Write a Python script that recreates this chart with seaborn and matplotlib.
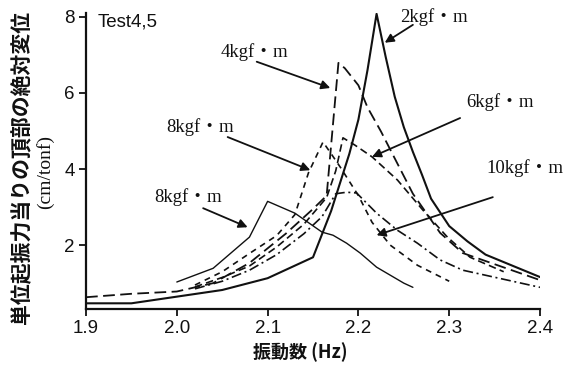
import matplotlib
matplotlib.use("Agg")
import matplotlib.pyplot as plt
import seaborn as sns

# Frequency response of the top displacement per unit exciting force
freq_2 = [1.90, 1.95, 2.05, 2.10, 2.15, 2.17, 2.19, 2.20, 2.21, 2.22,
          2.23, 2.24, 2.25, 2.26, 2.27, 2.28, 2.30, 2.32, 2.34, 2.40]
amp_2 = [0.47, 0.47, 0.82, 1.13, 1.68, 2.90, 4.40, 5.30, 6.60, 8.08,
         6.95, 5.90, 5.10, 4.45, 3.85, 3.22, 2.50, 2.10, 1.75, 1.16]

freq_4 = [1.90, 1.95, 2.00, 2.04, 2.08, 2.12, 2.15, 2.165, 2.178, 2.185,
          2.20, 2.21, 2.225, 2.24, 2.26, 2.29, 2.315, 2.40]
amp_4 = [0.63, 0.72, 0.78, 1.00, 1.53, 2.30, 2.95, 3.30, 6.79, 6.65,
         6.20, 5.62, 4.98, 4.28, 3.35, 2.32, 1.79, 1.08]

freq_6 = [2.02, 2.05, 2.08, 2.11, 2.14, 2.165, 2.175, 2.183, 2.196, 2.215,
          2.243, 2.271, 2.298, 2.323, 2.36]
amp_6 = [0.90, 1.15, 1.45, 1.95, 2.55, 3.25, 3.95, 4.82, 4.63, 4.32,
         3.71, 2.92, 2.21, 1.68, 1.30]

freq_8a = [2.02, 2.05, 2.08, 2.11, 2.13, 2.145, 2.161, 2.17, 2.18, 2.20,
           2.215, 2.235, 2.265, 2.30]
amp_8a = [0.95, 1.30, 1.78, 2.25, 2.80, 3.90, 4.71, 4.40, 4.05, 3.30,
          2.60, 2.00, 1.47, 1.05]

freq_8b = [2.00, 2.04, 2.08, 2.10, 2.13, 2.16, 2.172, 2.187, 2.202, 2.22,
           2.25, 2.26]
amp_8b = [1.03, 1.39, 2.21, 3.15, 2.84, 2.34, 2.26, 2.05, 1.79, 1.42,
          1.00, 0.89]

freq_10 = [2.02, 2.05, 2.08, 2.11, 2.14, 2.16, 2.175, 2.187, 2.198, 2.22,
           2.243, 2.265, 2.29, 2.315, 2.40]
amp_10 = [0.85, 1.05, 1.34, 1.75, 2.30, 2.75, 3.35, 3.39, 3.37, 2.84,
          2.39, 2.05, 1.61, 1.34, 0.89]

x_ticks = [1.9, 2.0, 2.1, 2.2, 2.3, 2.4]
x_tick_labels = ["1.9", "2.0", "2.1", "2.2", "2.3", "2.4"]
y_ticks = [2, 4, 6, 8]
y_tick_labels = ["2", "4", "6", "8"]

sns.set_theme(style="ticks")
plt.rcParams["font.family"] = ["Liberation Sans", "Noto Sans CJK JP"]

fig = plt.figure(figsize=(5.7, 3.66), dpi=100)
ax = fig.add_axes([0.1509, 0.1557, 0.7965, 0.8087])

series = [
    (freq_2, amp_2, 1.5, "-"),
    (freq_4, amp_4, 1.3, (0, (6.5, 3.0))),
    (freq_6, amp_6, 1.2, (0, (4.5, 2.5))),
    (freq_8a, amp_8a, 1.2, (0, (3.5, 3.0))),
    (freq_8b, amp_8b, 1.0, "-"),
    (freq_10, amp_10, 1.2, (0, (6.0, 2.2, 1.2, 2.2))),
]
for f, a, lw, ls in series:
    sns.lineplot(x=f, y=a, ax=ax, color="#111111", lw=lw, linestyle=ls,
                 estimator=None, sort=False)

ax.set_xlim(1.9, 2.4)
ax.set_ylim(0.32, 8.1)
ax.set_xticks(x_ticks, x_tick_labels)
ax.set_yticks(y_ticks, y_tick_labels)
sns.despine(ax=ax)
for side in ("left", "bottom"):
    ax.spines[side].set_linewidth(1.6)
    ax.spines[side].set_color("#111111")
ax.tick_params(direction="out", length=5, width=1.3, labelsize=13.5,
               pad=3, colors="#111111")
ax.set_xlabel("")
ax.set_ylabel("")

ax.text(1.946, 7.87, "Test4,5", ha="center", va="center", fontsize=13.5,
        color="#111111")

label_font = ["Liberation Serif", "Noto Sans CJK JP"]
notes = [
    ("2kgf・m", (2.283, 8.0), (2.26, 7.79), (2.229, 7.32)),
    ("4kgf・m", (2.085, 7.08), (2.088, 6.82), (2.169, 6.13)),
    ("8kgf・m", (2.026, 5.10), (2.056, 4.84), (2.147, 3.97)),
    ("6kgf・m", (2.356, 5.76), (2.312, 5.34), (2.215, 4.32)),
    ("8kgf・m", (2.012, 3.26), (2.029, 2.97), (2.078, 2.47)),
    ("10kgf・m", (2.383, 4.03), (2.348, 3.26), (2.220, 2.26)),
]
for text, pos, start, end in notes:
    ax.text(pos[0], pos[1], text, ha="center", va="center", fontsize=13.5,
            family=label_font, color="#111111", clip_on=False)
    ax.annotate("", xy=end, xytext=start,
                arrowprops=dict(arrowstyle="-|>", color="#111111", lw=1.3,
                                mutation_scale=13, shrinkA=0, shrinkB=0))

fig.text(22 / 570, 1 - 167 / 366, "単位起振力当りの頂部の絶対変位",
         rotation=90, ha="center", va="center", fontsize=15,
         family=["Noto Sans CJK JP"], fontweight="bold", color="#111111")
fig.text(45 / 570, 1 - 172 / 366, "(cm/tonf)", rotation=90, ha="center",
         va="center", fontsize=14, family=["Liberation Serif"],
         color="#111111")
fig.text(300 / 570, 1 - 352 / 366, "振動数 (Hz)", ha="center", va="center",
         fontsize=13, family=["Noto Sans CJK JP"], fontweight="bold",
         color="#111111")

fig.savefig("out.png", dpi=100, facecolor="white")
